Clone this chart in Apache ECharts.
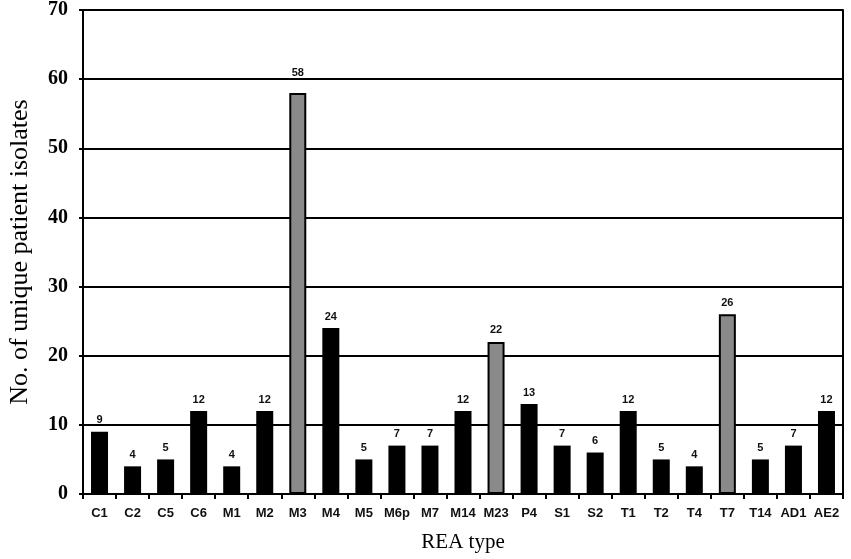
<!DOCTYPE html>
<html>
<head>
<meta charset="utf-8">
<script src="https://cdn.jsdelivr.net/npm/echarts@6/dist/echarts.min.js"></script>
<style>
html, body { margin: 0; padding: 0; background: #fff; }
#chart { width: 851px; height: 559px; }
</style>
</head>
<body>
<div id="chart"></div>
<script>
const reaTypes = ['C1', 'C2', 'C5', 'C6', 'M1', 'M2', 'M3', 'M4', 'M5', 'M6p', 'M7', 'M14', 'M23',
    'P4', 'S1', 'S2', 'T1', 'T2', 'T4', 'T7', 'T14', 'AD1', 'AE2'];
const isolates = [9, 4, 5, 12, 4, 12, 58, 24, 5, 7, 7, 12, 22, 13, 7, 6, 12, 5, 4, 26, 5, 7, 12];
// types drawn in grey
const greyTypes = ['M3', 'M23', 'T7'];

let chartDom = document.getElementById('chart');
let myChart = echarts.init(chartDom);

const barData = isolates.map(function (v, i) {
    let item = { value: v };
    if (greyTypes.indexOf(reaTypes[i]) >= 0) {
        item.itemStyle = { color: '#8a8a8a', borderColor: '#000', borderWidth: 2 };
    }
    // keep the tallest label clear of the 60 gridline
    if (reaTypes[i] === 'M3') {
        item.label = { distance: 15 };
    }
    return item;
});

let option = {
    animation: false,
    backgroundColor: '#fff',
    grid: {
        left: 83,
        right: 8,
        top: 10,
        bottom: 65,
        outerBoundsMode: 'none'
    },
    xAxis: {
        type: 'category',
        data: reaTypes,
        name: 'REA type',
        nameLocation: 'middle',
        nameGap: 38,
        nameTextStyle: { fontFamily: 'Liberation Serif', fontSize: 21, color: '#000' },
        axisLine: { lineStyle: { color: '#000', width: 2 } },
        axisTick: { show: true, length: 5, lineStyle: { color: '#000', width: 2 } },
        axisLabel: {
            fontFamily: 'Liberation Sans',
            fontWeight: 'bold',
            fontSize: 13,
            color: '#111',
            margin: 13,
            interval: 0
        }
    },
    yAxis: [{
        type: 'value',
        min: 0,
        max: 70,
        interval: 10,
        name: 'No. of unique patient isolates',
        nameLocation: 'middle',
        nameGap: 50,
        nameTextStyle: { fontFamily: 'Liberation Serif', fontSize: 26, color: '#000' },
        axisLine: { show: true, lineStyle: { color: '#000', width: 2 } },
        axisTick: { show: true, length: 4, lineStyle: { color: '#000', width: 2 } },
        axisLabel: {
            fontFamily: 'Liberation Serif',
            fontWeight: 'bold',
            fontSize: 20,
            color: '#000',
            margin: 15
        },
        splitLine: { show: true, lineStyle: { color: '#000', width: 2 } }
    }, {
        type: 'value',
        min: 0,
        max: 70,
        interval: 10,
        position: 'right',
        axisLine: { show: true, lineStyle: { color: '#000', width: 2 } },
        axisTick: { show: false },
        axisLabel: { show: false },
        splitLine: { show: false }
    }],
    series: [{
        type: 'bar',
        data: barData,
        barWidth: 17,
        itemStyle: { color: '#000' },
        label: {
            show: true,
            position: 'top',
            distance: 6,
            fontFamily: 'Liberation Sans',
            fontWeight: 'bold',
            fontSize: 11,
            color: '#111'
        }
    }]
};

option && myChart.setOption(option);
</script>
</body>
</html>
